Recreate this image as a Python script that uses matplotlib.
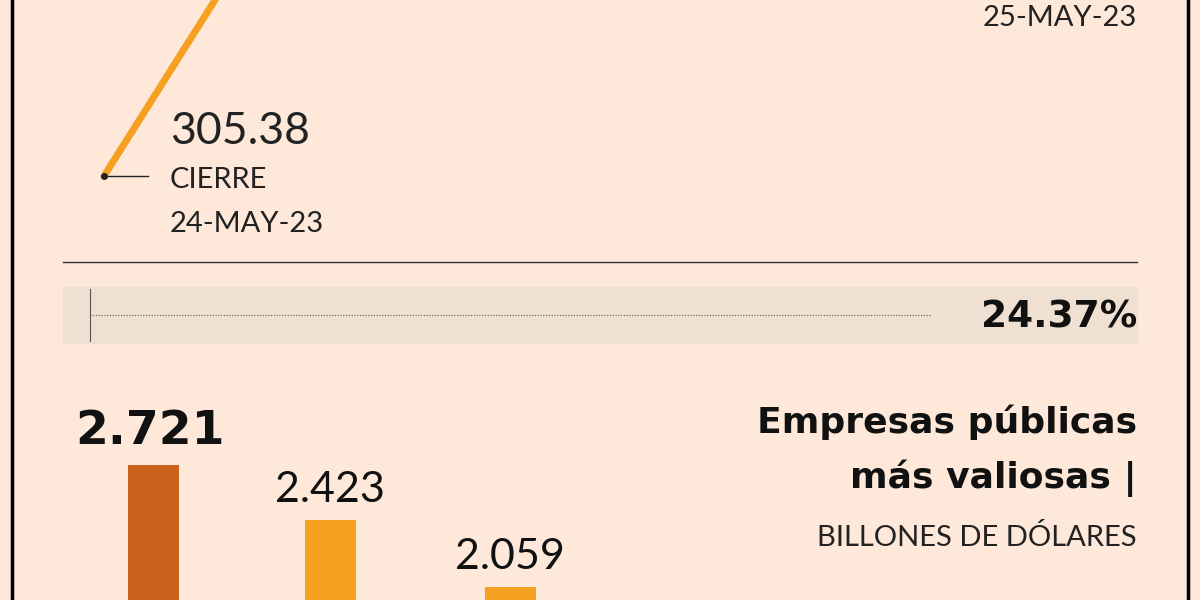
import matplotlib
matplotlib.use("Agg")
import matplotlib.pyplot as plt

bg = "#fde8d9"
companies = ["Apple", "Microsoft", "Saudi Aramco"]
caps = [2.721, 2.423, 2.059]
cap_labels = ["2.721", "2.423", "2.059"]
bar_colors = ["#c8621c", "#f5a020", "#f5a020"]
days = [0, 1]
prices = [305.38, 379.80]
change_label = "24.37%"

LF = ["Lato", "DejaVu Sans"]
BF = ["DejaVu Sans"]
fig = plt.figure(figsize=(12, 6), dpi=100)
fig.patch.set_facecolor(bg)

ov = fig.add_axes([0, 0, 1, 1])
ov.set_xlim(0, 1200); ov.set_ylim(600, 0); ov.axis("off")
ov.plot([12, 12], [0, 600], color="black", lw=2.5)
ov.plot([1188, 1188], [0, 600], color="black", lw=2.5)
ov.plot([63, 1137], [262, 262], color="#333333", lw=1)
ov.add_patch(plt.Rectangle((63, 287), 1074, 56, color="#f0e0d2", zorder=0))
ov.plot([90, 930], [315, 315], color="#555555", lw=0.8, ls=(0, (1, 1.5)))
ov.plot([90, 90], [289, 341], color="#555555", lw=0.8)
ov.text(1137, 318, change_label, ha="right", va="center", fontsize=27, weight="bold", family=BF, color="#111")
ov.text(170, 131, "305.38", ha="left", va="center", fontsize=32, family=LF, color="#222")
ov.text(170, 180, "CIERRE", ha="left", va="center", fontsize=21, family=LF, color="#222")
ov.text(170, 224, "24-MAY-23", ha="left", va="center", fontsize=21, family=LF, color="#222")
ov.text(1137, 18, "25-MAY-23", ha="right", va="center", fontsize=21, family=LF, color="#222")
ov.plot([104, 148], [176, 176], color="#222", lw=1)
ov.text(1137, 422, "Empresas públicas", ha="right", va="center", fontsize=26, weight="bold", family=BF, color="#111")
ov.text(1137, 478, "más valiosas |", ha="right", va="center", fontsize=26, weight="bold", family=BF, color="#111")
ov.text(1137, 538, "BILLONES DE DÓLARES", ha="right", va="center", fontsize=21, family=LF, color="#222")

la = fig.add_axes([0, 0, 1, 1]); la.patch.set_alpha(0)
la.set_xlim(-104/222, 1096/222); la.set_ylim(215.74, 342.59); la.axis("off")
la.plot(days, prices, color="#f5a020", lw=5, solid_capstyle="round")
la.plot(days[0], prices[0], "o", color="#222", ms=4)

ba = fig.add_axes([0, 0, 1, 200/600]); ba.patch.set_alpha(0)
ba.set_xlim(0, 1200); ba.set_ylim(1.988, 3.071); ba.axis("off")
xs = [153, 330, 510]
ba.bar(xs, caps, width=51, color=bar_colors)
for x, v, l, i in zip(xs, caps, cap_labels, range(3)):
    ba.text(x - (3 if i == 0 else 0), v + 0.06, l, ha="center", va="bottom",
            fontsize=34 if i == 0 else 31,
            weight="bold" if i == 0 else "normal", family=BF if i == 0 else LF, color="#111")

fig.savefig("out.png", dpi=100, facecolor=bg)
